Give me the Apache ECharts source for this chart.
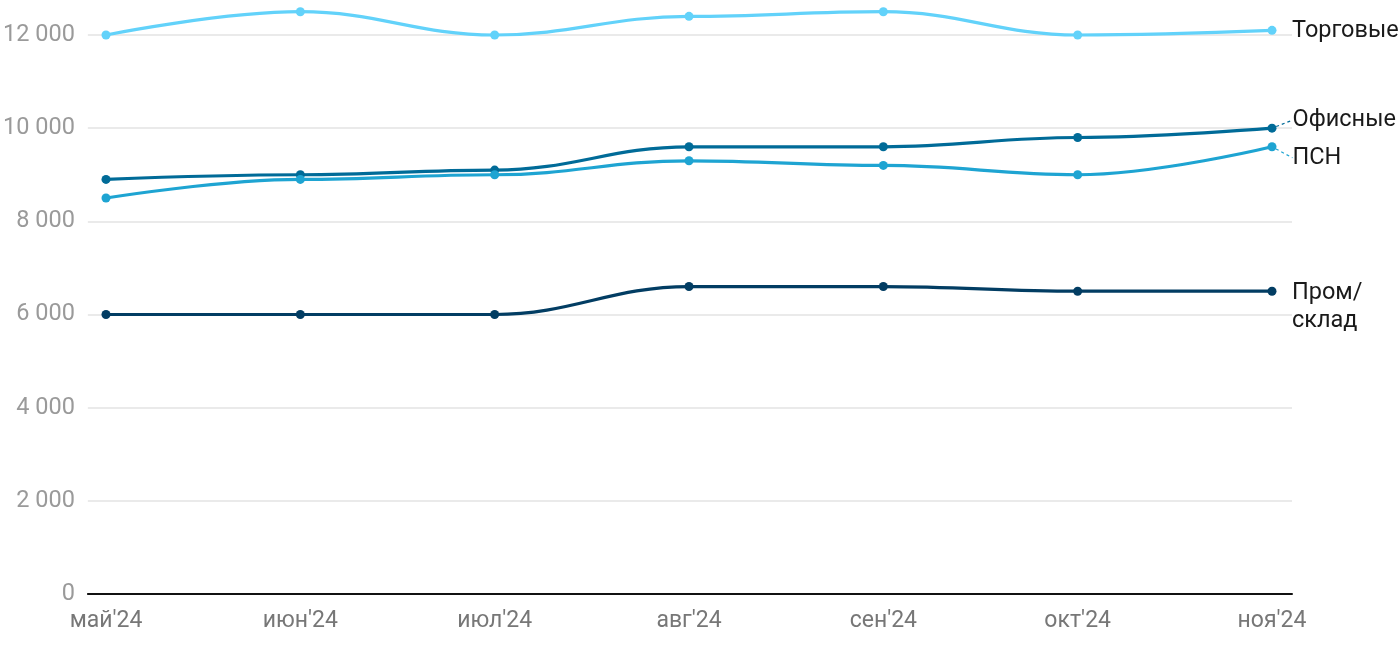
<!DOCTYPE html>
<html><head><meta charset="utf-8">
<script src="https://cdn.jsdelivr.net/npm/echarts@6/dist/echarts.min.js"></script>
<style>html,body{margin:0;padding:0;background:#fff}#c{width:1400px;height:650px}</style>
</head><body><div id="c"></div>
<script>
const categories = ["май'24","июн'24","июл'24","авг'24","сен'24","окт'24","ноя'24"];
const torgovye = [12000,12500,12000,12400,12500,12000,12100];
const ofisnye = [8900,9000,9100,9600,9600,9800,10000];
const psn = [8500,8900,9000,9300,9200,9000,9600];
const prom = [6000,6000,6000,6600,6600,6500,6500];
const yTicks = [0,2000,4000,6000,8000,10000,12000];

const FONT = 'Roboto';
const LBL = {color:'#1a1a1a', fontSize:23.5, fontFamily:FONT, lineHeight:28};
const chart = echarts.init(document.getElementById('c'));
function base(name, data, color) {
  return {
    type:'line', name, xAxisIndex:1, yAxisIndex:1,
    smooth:0.4, smoothMonotone:'x', clip:false,
    symbol:'circle', symbolSize:9,
    lineStyle:{width:3.2,color}, itemStyle:{color},
    emphasis:{disabled:true}, data
  };
}
function withEnd(name, data, color, label, off) {
  const s = base(name, data, color);
  s.endLabel = Object.assign({show:true, formatter:label, distance:20, offset:off, align:'left'}, LBL);
  return s;
}
function withLine(name, data, color, label, dy) {
  const d = data.map((v,i)=> i===data.length-1 ? {
    value:v,
    label:Object.assign({show:true, position:'right', distance:16, formatter:label}, LBL),
    labelLine:{show:true, lineStyle:{color, width:1.2, type:[3,3]}}
  } : v);
  const s = base(name, d, color);
  s.labelLayout = {dy:dy};
  return s;
}
chart.setOption({
  animation:false,
  textStyle:{fontFamily:FONT},
  grid:[
    {left:86,right:108,top:35,bottom:56},
    {left:106,right:128,top:35,bottom:56}
  ],
  xAxis:[
    {gridIndex:0,type:'category',data:categories,boundaryGap:false,
     axisLine:{show:true,lineStyle:{color:'#111',width:2}},axisTick:{show:false},axisLabel:{show:false},splitLine:{show:false}},
    {gridIndex:1,type:'category',data:categories,boundaryGap:false,
     axisLine:{show:false},axisTick:{show:false},
     axisLabel:{color:'#777',fontSize:23,fontFamily:FONT,margin:16},splitLine:{show:false}}
  ],
  yAxis:[
    {gridIndex:0,type:'value',min:0,max:12000,interval:2000,
     axisLine:{show:false},axisTick:{show:false},
     axisLabel:{color:'#9a9a9a',fontSize:23.5,fontFamily:FONT,margin:13,
       formatter:v=>yTicks.includes(v)?String(v).replace(/\B(?=(\d{3})+(?!\d))/g,' '):''},
     splitLine:{lineStyle:{color:'#e3e3e3',width:1.5}}},
    {gridIndex:1,type:'value',min:0,max:12000,interval:2000,show:false,splitLine:{show:false}}
  ],
  series:[
    withEnd('Торговые',torgovye,'#62d2fa','Торговые',[0,1]),
    withLine('Офисные',ofisnye,'#006b98','Офисные',-8),
    withLine('ПСН',psn,'#1ea4d2','ПСН',11),
    withEnd('Пром/склад',prom,'#023d63','Пром/\nсклад',[0,16])
  ]
});
</script></body></html>
